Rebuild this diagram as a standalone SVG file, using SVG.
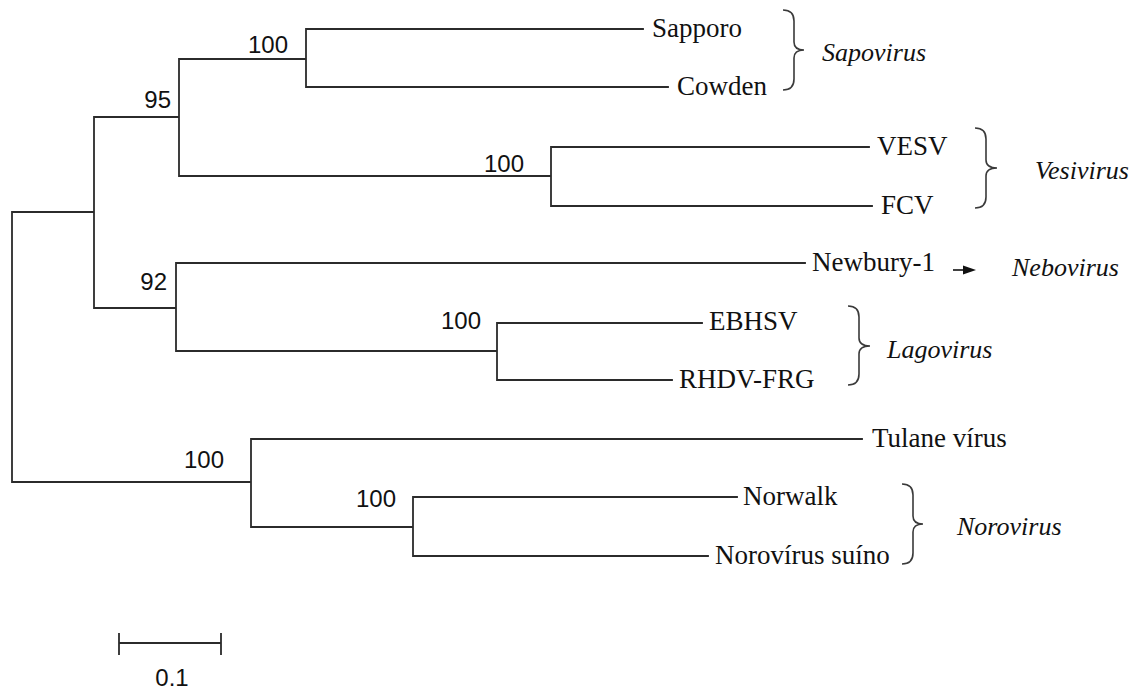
<svg xmlns="http://www.w3.org/2000/svg" width="1141" height="690" viewBox="0 0 1141 690">
<style>
.br{fill:none;stroke:#2b2b2b;stroke-width:1.8;stroke-linecap:square}
.bc{fill:none;stroke:#3a3a3a;stroke-width:1.6}
.tx{font-family:"Liberation Serif",serif;font-size:27px;fill:#111}
.gn{font-family:"Liberation Serif",serif;font-size:26px;font-style:italic;fill:#111}
.bs{font-family:"Liberation Sans",Arial,sans-serif;font-size:24px;fill:#111}
</style>
<rect width="1141" height="690" fill="#fff"/>
<g id="connectors">
<path class="br" d="M12,212 V482 M12,212 H94 M94,117 V308 M94,117 H179 M179,59 V176 M179,59 H306 M306,29 V87 M306,29 H643 M306,87 H668 M179,176 H551 M551,147 V206 M551,147 H869 M551,206 H872 M94,308 H176 M176,263 V351 M176,263 H805 M176,351 H497 M497,323 V380 M497,323 H702 M497,380 H672 M12,482 H251 M251,439 V527 M251,439 H862 M251,527 H413 M413,497 V556 M413,497 H737 M413,556 H708"/>
</g>
<g id="bootstrap">
<text class="bs" x="288" y="53" text-anchor="end">100</text>
<text class="bs" x="171" y="108" text-anchor="end">95</text>
<text class="bs" x="524" y="172" text-anchor="end">100</text>
<text class="bs" x="167" y="290" text-anchor="end">92</text>
<text class="bs" x="481" y="329" text-anchor="end">100</text>
<text class="bs" x="224" y="468" text-anchor="end">100</text>
<text class="bs" x="396" y="507" text-anchor="end">100</text>
</g>
<g id="leaf-sapporo"><text class="tx" x="652" y="37">Sapporo</text></g>
<g id="leaf-cowden"><text class="tx" x="677" y="95">Cowden</text></g>
<g id="leaf-vesv"><text class="tx" x="877" y="155">VESV</text></g>
<g id="leaf-fcv"><text class="tx" x="881" y="214">FCV</text></g>
<g id="leaf-newbury"><text class="tx" x="812" y="271">Newbury-1</text></g>
<g id="leaf-ebhsv"><text class="tx" x="709" y="330">EBHSV</text></g>
<g id="leaf-rhdv"><text class="tx" x="679" y="388">RHDV-FRG</text></g>
<g id="leaf-tulane"><text class="tx" x="872" y="447">Tulane vírus</text></g>
<g id="leaf-norwalk"><text class="tx" x="743" y="505">Norwalk</text></g>
<g id="leaf-norosuino"><text class="tx" x="715" y="564">Norovírus suíno</text></g>
<g id="genus-sapovirus">
<path class="bc" d="M783,10 Q794,10 794,21 V42 Q794,50 804,50 Q794,50 794,58 V79 Q794,90 783,90"/>
<text class="gn" x="822" y="61">Sapovirus</text>
</g>
<g id="genus-vesivirus">
<path class="bc" d="M975,128 Q986,128 986,139 V160 Q986,168 997,168 Q986,168 986,176 V197 Q986,208 975,208"/>
<text class="gn" x="1035" y="179">Vesivirus</text>
</g>
<g id="genus-nebovirus">
<path d="M953,270 H964" stroke="#111" stroke-width="1.6"/>
<path d="M963,265.5 L976,270 L963,274.5 Z" fill="#111"/>
<text class="gn" x="1012" y="276">Nebovirus</text>
</g>
<g id="genus-lagovirus">
<path class="bc" d="M848,306 Q859,306 859,317 V338 Q859,346 870,346 Q859,346 859,354 V374 Q859,385 848,385"/>
<text class="gn" x="887" y="358">Lagovirus</text>
</g>
<g id="genus-norovirus">
<path class="bc" d="M902,484 Q913,484 913,495 V516 Q913,524 923,524 Q913,524 913,532 V553 Q913,564 902,564"/>
<text class="gn" x="957" y="535">Norovirus</text>
</g>
<g id="scalebar">
<path class="br" d="M119,643 H221 M119,634 V654 M221,634 V654"/>
<text class="bs" x="172" y="686" text-anchor="middle">0.1</text>
</g>
</svg>
